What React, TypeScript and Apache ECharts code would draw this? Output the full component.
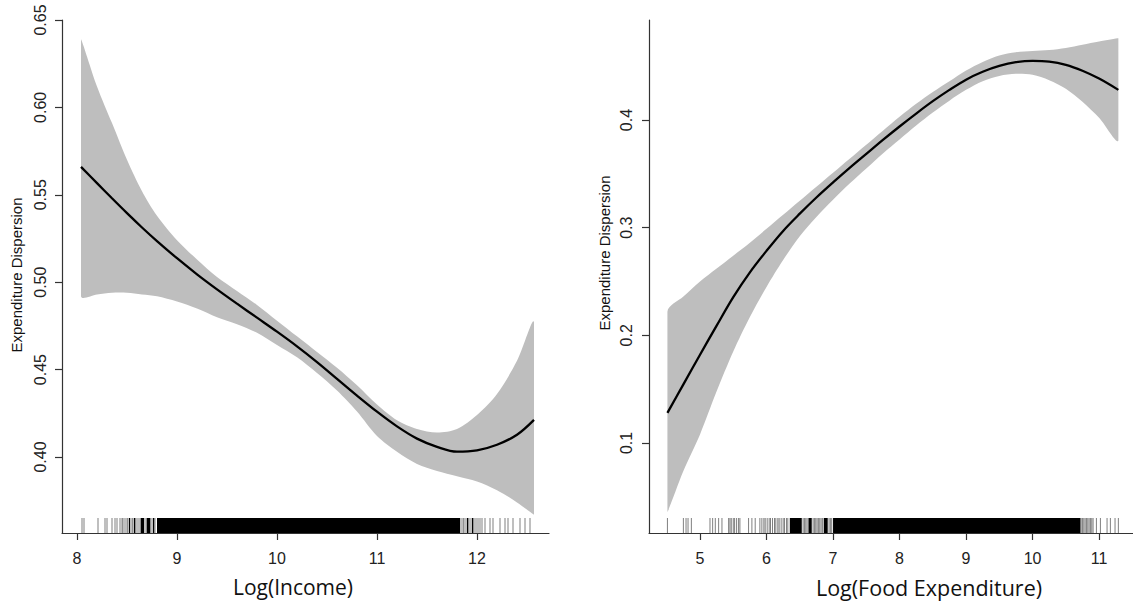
import React, { useEffect, useRef } from "react";
import * as echarts from "echarts";

// ---- Left panel: Log(Income) ----
const incomeX = [8.04, 8.2, 8.35, 8.5, 8.65, 8.8, 9.0, 9.2, 9.4, 9.6, 9.8, 10.0, 10.2, 10.4, 10.6, 10.8, 11.0, 11.2, 11.4, 11.6, 11.8, 12.0, 12.2, 12.4, 12.57];
const incomeMean = [0.566, 0.5567, 0.548, 0.5395, 0.5313, 0.5235, 0.5137, 0.5045, 0.4959, 0.4877, 0.4797, 0.4717, 0.4633, 0.4543, 0.4447, 0.4351, 0.4259, 0.4175, 0.4105, 0.4058, 0.403, 0.4038, 0.407, 0.4127, 0.4212];
const incomeUpper = [0.639, 0.612, 0.591, 0.57, 0.552, 0.538, 0.524, 0.513, 0.503, 0.495, 0.487, 0.478, 0.469, 0.46, 0.451, 0.441, 0.43, 0.421, 0.416, 0.414, 0.416, 0.424, 0.436, 0.455, 0.477];
const incomeLower = [0.492, 0.493, 0.494, 0.494, 0.493, 0.492, 0.489, 0.485, 0.48, 0.476, 0.471, 0.464, 0.457, 0.448, 0.438, 0.426, 0.412, 0.403, 0.396, 0.392, 0.389, 0.386, 0.381, 0.374, 0.367];
const incomeRugTicks = [8.05, 8.07, 8.21, 8.28, 8.3, 8.35, 8.38, 8.4, 8.43, 8.45, 8.46, 8.48, 8.5, 8.51, 8.53, 8.55, 8.56, 8.58, 8.59, 8.61, 8.63, 8.64, 8.66, 8.67, 8.69, 8.7, 8.71, 8.73, 8.74, 8.76, 8.77, 8.78, 11.84, 11.86, 11.87, 11.89, 11.91, 11.92, 11.94, 11.96, 11.97, 11.99, 12.01, 12.03, 12.05, 12.08, 12.13, 12.16, 12.23, 12.28, 12.31, 12.36, 12.43, 12.48, 12.53];
const incomeRugDense = [[8.52, 8.53], [8.57, 8.58], [8.64, 8.67], [8.7, 8.73], [8.76, 8.77], [8.8, 11.83], [11.9, 11.91], [11.95, 11.96]];
const incomeXTicks = [8, 9, 10, 11, 12];
const incomeYTicks = [0.4, 0.45, 0.5, 0.55, 0.6, 0.65];

// ---- Right panel: Log(Food Expenditure) ----
const foodX = [4.51, 4.75, 5.0, 5.25, 5.5, 5.75, 6.0, 6.25, 6.5, 6.75, 7.0, 7.25, 7.5, 7.75, 8.0, 8.25, 8.5, 8.75, 9.0, 9.25, 9.5, 9.75, 10.0, 10.25, 10.5, 10.75, 11.0, 11.29];
const foodMean = [0.128, 0.1545, 0.182, 0.209, 0.2355, 0.2585, 0.2785, 0.297, 0.313, 0.328, 0.342, 0.3555, 0.3685, 0.3815, 0.394, 0.406, 0.4175, 0.428, 0.4375, 0.4448, 0.4502, 0.4537, 0.455, 0.4543, 0.4513, 0.4458, 0.4385, 0.428];
const foodUpper = [0.222, 0.236, 0.25, 0.262, 0.274, 0.286, 0.299, 0.312, 0.325, 0.338, 0.351, 0.364, 0.377, 0.39, 0.403, 0.415, 0.426, 0.436, 0.446, 0.454, 0.46, 0.463, 0.464, 0.465, 0.467, 0.47, 0.473, 0.476];
const foodLower = [0.036, 0.074, 0.108, 0.148, 0.185, 0.217, 0.245, 0.27, 0.292, 0.31, 0.326, 0.341, 0.355, 0.369, 0.382, 0.395, 0.407, 0.418, 0.428, 0.436, 0.441, 0.443, 0.442, 0.437, 0.429, 0.417, 0.402, 0.381];
const foodRugTicks = [4.51, 4.75, 4.79, 4.82, 4.87, 5.15, 5.19, 5.23, 5.28, 5.33, 5.43, 5.45, 5.47, 5.5, 5.52, 5.55, 5.58, 5.6, 5.73, 5.78, 5.83, 5.9, 5.93, 5.96, 5.98, 6.01, 6.04, 6.06, 6.09, 6.12, 6.14, 6.17, 6.19, 6.22, 6.25, 6.27, 6.3, 6.32, 6.55, 6.57, 6.59, 6.61, 6.7, 6.72, 6.74, 6.76, 6.78, 6.8, 6.82, 6.84, 6.94, 6.96, 6.98, 10.73, 10.75, 10.77, 10.79, 10.81, 10.83, 10.85, 10.87, 10.89, 10.91, 10.96, 11.02, 11.12, 11.17, 11.24, 11.29];
const foodRugDense = [[6.35, 6.53], [6.63, 6.68], [6.86, 6.92], [7.0, 10.72]];
const foodXTicks = [5, 6, 7, 8, 9, 10, 11];
const foodYTicks = [0.1, 0.2, 0.3, 0.4];

const LABEL_FONT = "'Liberation Sans', Arial, sans-serif";
const TITLE_FONT = "'Open Sans', 'Noto Sans', sans-serif";
const RUG_H = 15;
const SMOOTH = 0.35;

function zip(xs: number[], ys: number[]) {
  return xs.map((x, i) => [x, ys[i]]);
}

function panelSeries(idx: number, xs: number[], lower: number[], upper: number[], mean: number[], rugTicks: number[], rugDense: number[][], yMin: number) {
  return [
    {
      type: "custom",
      xAxisIndex: idx,
      yAxisIndex: idx,
      z: 2,
      silent: true,
      data: xs.map((x, i) => [x, lower[i], upper[i]]),
      encode: { x: 0, y: [1, 2] },
      renderItem: (params: any, api: any) => {
        if (params.dataIndex !== 0) return null;
        const top = xs.map((x, i) => api.coord([x, upper[i]]));
        const bottom = xs.map((x, i) => api.coord([x, lower[i]])).reverse();
        return {
          type: "polygon",
          shape: {
            points: top.concat(bottom),
            smooth: 0.3,
            smoothConstraint: [[Infinity, Infinity], [-Infinity, -Infinity]],
          },
          style: { fill: "#bebebe", stroke: "none" },
        };
      },
    },
    {
      type: "line",
      xAxisIndex: idx,
      yAxisIndex: idx,
      z: 4,
      smooth: SMOOTH,
      symbol: "none",
      silent: true,
      data: zip(xs, mean),
      lineStyle: { color: "#000", width: 2.3 },
    },
    {
      type: "custom",
      xAxisIndex: idx,
      yAxisIndex: idx,
      z: 5,
      data: rugTicks.map((v) => [v]),
      encode: { x: 0 },
      silent: true,
      renderItem: (params: any, api: any) => {
        const p = api.coord([api.value(0), yMin]);
        return {
          type: "line",
          shape: { x1: p[0], y1: p[1], x2: p[0], y2: p[1] - RUG_H },
          style: { stroke: "#000", opacity: 0.5, lineWidth: 1 },
        };
      },
    },
    {
      type: "custom",
      xAxisIndex: idx,
      yAxisIndex: idx,
      z: 5,
      data: rugDense,
      encode: { x: [0, 1] },
      silent: true,
      renderItem: (params: any, api: any) => {
        const a = api.coord([api.value(0), yMin]);
        const b = api.coord([api.value(1), yMin]);
        return {
          type: "rect",
          shape: { x: a[0], y: a[1] - RUG_H, width: b[0] - a[0], height: RUG_H },
          style: { fill: "#000" },
        };
      },
    },
  ];
}

function axisCommon() {
  return {
    z: 10,
    axisLine: { show: true, lineStyle: { color: "#333", width: 1.2 } },
    splitLine: { show: false },
  };
}

function tick(values: number[]) {
  return { show: true, inside: false, length: 7, customValues: values, lineStyle: { color: "#333", width: 1.2 } };
}

export default function App() {
  const ref = useRef<HTMLDivElement>(null);
  useEffect(() => {
    if (!ref.current) return;
    const chart = echarts.init(ref.current, null, { renderer: "svg" });
    const incomeYMin = 0.3565;
    const foodYMin = 0.0164;
    const option: any = {
      animation: false,
      backgroundColor: "#fff",
      grid: [
        { left: 62, top: 20, width: 487, height: 513 },
        { left: 649, top: 20, width: 484, height: 513 },
      ],
      xAxis: [
        {
          type: "value",
          gridIndex: 0,
          min: 7.85,
          max: 12.72,
          ...axisCommon(),
          axisTick: tick(incomeXTicks),
          axisLabel: { customValues: incomeXTicks, margin: 17, fontSize: 16, color: "#222", fontFamily: LABEL_FONT },
        },
        {
          type: "value",
          gridIndex: 1,
          min: 4.233,
          max: 11.51,
          ...axisCommon(),
          axisTick: tick(foodXTicks),
          axisLabel: { customValues: foodXTicks, margin: 17, fontSize: 16, color: "#222", fontFamily: LABEL_FONT },
        },
      ],
      yAxis: [
        {
          type: "value",
          gridIndex: 0,
          min: incomeYMin,
          max: 0.65,
          ...axisCommon(),
          axisTick: tick(incomeYTicks),
          axisLabel: {
            customValues: incomeYTicks,
            rotate: 90,
            margin: 14,
            fontSize: 16,
            color: "#222",
            fontFamily: LABEL_FONT,
            formatter: (v: number) => v.toFixed(2),
          },
        },
        {
          type: "value",
          gridIndex: 1,
          min: foodYMin,
          max: 0.4929,
          ...axisCommon(),
          axisTick: tick(foodYTicks),
          axisLabel: {
            customValues: foodYTicks,
            rotate: 90,
            margin: 15,
            fontSize: 16,
            color: "#222",
            fontFamily: LABEL_FONT,
            formatter: (v: number) => v.toFixed(1),
          },
        },
      ],
      graphic: [
        {
          type: "text",
          x: 293,
          y: 587,
          style: { text: "Log(Income)", fontSize: 21, fontFamily: TITLE_FONT, fill: "#111", textAlign: "center", textVerticalAlign: "middle" },
        },
        {
          type: "text",
          x: 929,
          y: 587,
          style: { text: "Log(Food Expenditure)", fontSize: 21.5, fontFamily: TITLE_FONT, fill: "#111", textAlign: "center", textVerticalAlign: "middle" },
        },
        {
          type: "text",
          x: 16,
          y: 275,
          rotation: Math.PI / 2,
          style: { text: "Expenditure Dispersion", fontSize: 15, fontFamily: LABEL_FONT, fill: "#111", textAlign: "center", textVerticalAlign: "middle" },
        },
        {
          type: "text",
          x: 604,
          y: 253,
          rotation: Math.PI / 2,
          style: { text: "Expenditure Dispersion", fontSize: 15, fontFamily: LABEL_FONT, fill: "#111", textAlign: "center", textVerticalAlign: "middle" },
        },
      ],
      series: [
        ...panelSeries(0, incomeX, incomeLower, incomeUpper, incomeMean, incomeRugTicks, incomeRugDense, incomeYMin),
        ...panelSeries(1, foodX, foodLower, foodUpper, foodMean, foodRugTicks, foodRugDense, foodYMin),
      ],
    };
    chart.setOption(option);
    return () => chart.dispose();
  }, []);
  return <div ref={ref} style={{ position: "fixed", left: 0, top: 0, width: 1133, height: 602 }} />;
}
